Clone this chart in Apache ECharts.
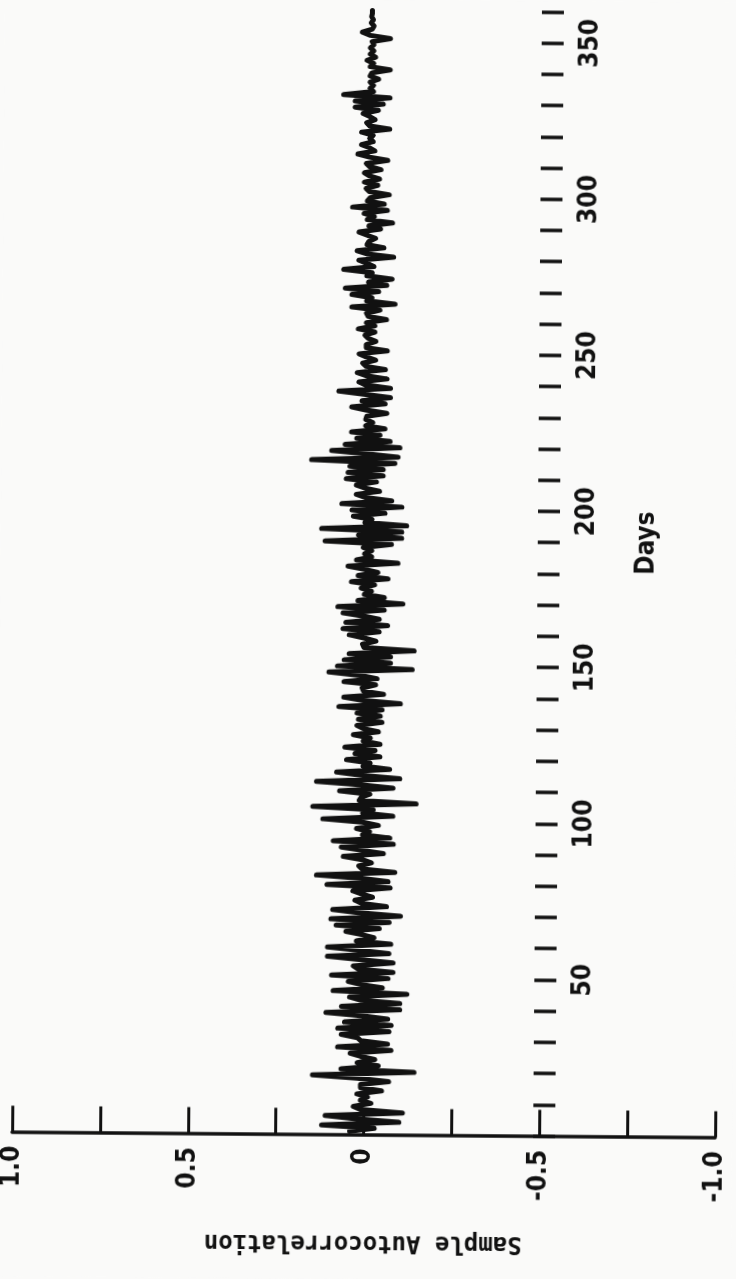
<!DOCTYPE html>
<html>
<head>
<meta charset="utf-8">
<script src="https://cdn.jsdelivr.net/npm/echarts@6/dist/echarts.min.js"></script>
<style>
  html, body { margin: 0; padding: 0; background: #fafaf9; }
  /* the plotted sheet sits very slightly askew */
  #chart { width: 736px; height: 1279px; transform: rotate(0.45deg); transform-origin: 368px 640px; }
</style>
</head>
<body>
<div id="chart"></div>
<script>
// Sample autocorrelation for lags 1..360 days
const acf = [
  0.04, -0.03, 0.12, -0.10, 0.02, 0.11, -0.11, 0.01, 0.03, -0.02,
  0.01, -0.01, 0.02, -0.05, 0.01, 0.01, -0.07, 0.02, 0.147, -0.142,
  0.066, -0.04, 0.02, -0.03, 0.01, 0.04, -0.076, 0.076, -0.066, 0.01,
  0.02, 0.066, -0.07, 0.076, -0.076, 0.057, -0.066, 0.01, 0.11, -0.10,
  0.066, -0.10, 0.01, 0.043, -0.12, 0.09, -0.05, 0.01, 0.047, -0.066,
  0.095, -0.08, 0.02, 0.033, -0.08, 0.01, 0.107, -0.068, 0.02, 0.107,
  -0.073, 0.025, -0.025, 0.01, 0.055, -0.04, 0.083, -0.068, 0.098, -0.10,
  0.02, 0.093, -0.06, 0.01, 0.03, -0.02, 0.01, 0.036, -0.07, 0.11,
  -0.064, 0.01, 0.14, -0.083, 0.01, 0.02, -0.016, 0.01, 0.064, -0.05,
  0.01, 0.07, -0.078, 0.093, -0.068, 0.01, -0.01, 0.027, -0.035, 0.01,
  0.123, -0.076, 0.01, -0.02, 0.152, -0.142, 0.02, 0.014, -0.01, 0.076,
  -0.076, 0.02, 0.142, -0.095, 0.01, 0.085, -0.066, 0.01, -0.01, 0.057,
  -0.038, 0.033, -0.024, 0.062, -0.038, 0.01, -0.01, 0.038, -0.033, 0.01,
  0.028, -0.043, 0.024, -0.038, 0.028, -0.043, 0.08, -0.095, 0.01, 0.066,
  -0.047, 0.01, 0.014, -0.024, 0.066, -0.028, 0.02, 0.109, -0.128, 0.085,
  -0.066, 0.066, -0.066, 0.052, -0.133, 0.01, 0.014, -0.024, 0.01, 0.052,
  -0.033, 0.07, -0.057, 0.062, -0.033, 0.01, 0.07, -0.047, 0.085, -0.10,
  0.028, -0.047, 0.01, -0.01, 0.019, -0.019, 0.047, -0.057, 0.028, -0.028,
  0.01, 0.057, -0.085, 0.033, -0.01, 0.01, -0.01, 0.014, -0.066, 0.123,
  -0.095, 0.028, -0.095, 0.133, -0.109, 0.01, -0.01, 0.043, -0.047, 0.047,
  -0.095, 0.076, -0.066, 0.01, 0.035, -0.031, 0.01, 0.035, -0.022, 0.064,
  -0.041, 0.059, -0.041, 0.054, -0.074, 0.163, -0.083, 0.01, 0.106, -0.088,
  0.068, -0.06, 0.035, -0.031, 0.05, -0.045, 0.01, -0.01, 0.01, 0.007,
  -0.05, 0.01, 0.05, -0.045, 0.021, -0.06, 0.01, 0.087, -0.06, 0.01,
  0.03, -0.05, 0.01, 0.035, -0.045, 0.01, 0.02, -0.017, 0.01, 0.03,
  -0.05, 0.01, 0.01, -0.017, 0.005, 0.014, -0.014, 0.033, -0.014, 0.01,
  -0.047, 0.005, 0.01, -0.028, 0.052, -0.071, 0.01, -0.005, 0.052, -0.024,
  0.071, -0.047, 0.005, -0.062, 0.01, -0.005, 0.076, -0.01, 0.01, 0.033,
  -0.066, 0.01, 0.038, -0.038, 0.01, 0.005, -0.014, 0.01, 0.033, -0.028,
  0.005, -0.062, 0.01, -0.01, 0.019, -0.047, 0.052, -0.038, 0.01, 0.002,
  -0.052, 0.005, 0.014, -0.019, 0.019, -0.024, 0.005, 0.019, -0.028, 0.005,
  0.014, -0.047, 0.005, 0.038, -0.01, 0.005, 0.028, -0.005, 0.005, -0.005,
  0.028, -0.052, 0.005, 0.014, -0.01, 0.005, 0.024, -0.019, 0.047, -0.033,
  0.047, -0.052, 0.08, -0.005, 0.005, -0.005, 0.005, -0.019, 0.005, 0.0,
  -0.052, 0.005, -0.005, 0.014, -0.01, 0.005, -0.005, 0.005, -0.005, 0.0,
  -0.052, 0.005, 0.028, 0.0, -0.005, 0.003, -0.003, 0.002, 0.0, 0.0
];
const lags = acf.map((_, i) => i + 1);

// tick labels
const dayLabels = [50, 100, 150, 200, 250, 300, 350];
const acfLabels = { '1': '1.0', '0.5': '0.5', '0': '0', '-0.5': '-0.5', '-1': '-1.0' };

const ink = '#111';
const labelFont = '"DejaVu Sans Condensed", "Liberation Sans Narrow", "DejaVu Sans", sans-serif';
const titleFont = '"DejaVu Sans Mono", "Liberation Mono", monospace';

const chart = echarts.init(document.getElementById('chart'), null, { renderer: 'canvas' });

chart.setOption({
  animation: false,
  backgroundColor: '#fafaf9',
  grid: { left: 16, right: 17, top: 10.4, bottom: 144.5, containLabel: false, outerBoundsMode: 'none' },
  xAxis: {
    type: 'value', min: -1, max: 1, interval: 0.25, inverse: true, position: 'bottom',
    axisLine: { onZero: false, lineStyle: { color: ink, width: 3.5 } },
    axisTick: { inside: true, length: 26, lineStyle: { color: ink, width: 3 } },
    axisLabel: {
      rotate: 90, margin: 14, color: ink, fontSize: 26, fontWeight: 'bold', fontFamily: labelFont,
      formatter: v => acfLabels[String(v)] || ''
    },
    splitLine: { show: false }
  },
  yAxis: {
    type: 'value', min: 0, max: 360, interval: 10, position: 'right', offset: -182,
    axisLine: { show: false, onZero: false },
    axisTick: { show: true, inside: false, length: 22, lineStyle: { color: ink, width: 3.5 } },
    axisLabel: {
      rotate: 90, margin: 36, color: ink, fontSize: 26, fontWeight: 'bold', fontFamily: labelFont,
      formatter: v => (dayLabels.indexOf(v) >= 0 ? String(v) : '')
    },
    splitLine: { show: false }
  },
  graphic: [
    {
      type: 'text', x: 646, y: 541, rotation: Math.PI / 2,
      style: { text: 'Days', fill: ink, font: 'bold 26px ' + labelFont, align: 'center', verticalAlign: 'middle' }
    },
    {
      type: 'text', x: 367.5, y: 1242, rotation: Math.PI,
      style: { text: 'Sample Autocorrelation', fill: ink, font: 'bold 24px ' + titleFont, align: 'center', verticalAlign: 'middle' }
    }
  ],
  series: [{
    type: 'line',
    data: lags.map((d, i) => [acf[i], d]),
    showSymbol: false,
    clip: false,
    lineStyle: { color: ink, width: 5, cap: 'round', join: 'round' }
  }]
});
</script>
</body>
</html>
